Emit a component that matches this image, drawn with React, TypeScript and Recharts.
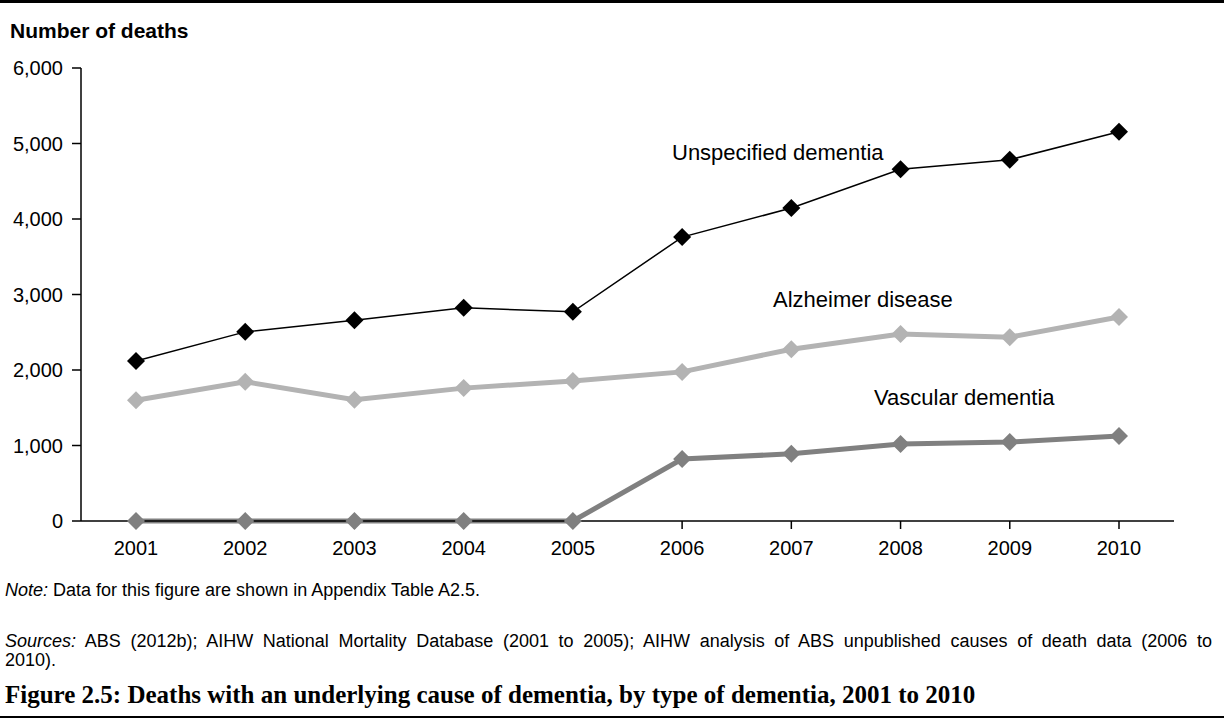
import { Line, LineChart, XAxis, YAxis } from "recharts";

const years = ["2001", "2002", "2003", "2004", "2005", "2006", "2007", "2008", "2009", "2010"];
const unspecified = [2120, 2505, 2660, 2825, 2770, 3760, 4145, 4660, 4785, 5155];
const alzheimer = [1600, 1845, 1605, 1760, 1855, 1975, 2275, 2478, 2435, 2702];
const vascular = [0, 0, 0, 0, 0, 820, 890, 1020, 1046, 1126];
const yTicks = [0, 1000, 2000, 3000, 4000, 5000, 6000];

const data = years.map((year, i) => ({
    year,
    unspecified: unspecified[i],
    alzheimer: alzheimer[i],
    vascular: vascular[i],
}));

const SANS = '"Liberation Sans", Arial, sans-serif';

const diamond = (color: string, r: number) => (props: any) => {
    const { cx, cy, index } = props;
    if (cx == null || cy == null) return null;
    return (
        <path
            key={index}
            d={`M${cx},${cy - r}L${cx + r},${cy}L${cx},${cy + r}L${cx - r},${cy}Z`}
            fill={color}
        />
    );
};

const noteStyle: React.CSSProperties = {
    position: "absolute",
    left: 5,
    fontFamily: SANS,
    fontSize: 18,
    lineHeight: "19px",
    color: "#000",
    whiteSpace: "nowrap",
};

const Tag = ({ left, top, text }: { left: number; top: number; text: string }) => (
    <div style={{ position: "absolute", left, top, fontFamily: SANS, fontSize: 22, lineHeight: "22px", color: "#000", whiteSpace: "nowrap" }}>
        {text}
    </div>
);

export default function App() {
    return (
        <div style={{ position: "absolute", left: 0, top: 0, width: 1224, height: 727, background: "#fff", overflow: "hidden" }}>
            <div style={{ position: "absolute", left: 0, top: 0, width: 1224, height: 3, background: "#000" }} />

            <div style={{ position: "absolute", left: 10, top: 20, fontFamily: SANS, fontSize: 21, fontWeight: "bold", lineHeight: "21px" }}>
                Number of deaths
            </div>

            <div style={{ position: "absolute", left: 0, top: 0 }}>
                <LineChart width={1224} height={560} data={data} margin={{ top: 68, right: 50, left: 0, bottom: 0 }}>
                    <XAxis
                        dataKey="year"
                        height={39}
                        padding={{ left: 55, right: 55 }}
                        axisLine={{ stroke: "#000", strokeWidth: 1.5 }}
                        tickLine={{ stroke: "#000", strokeWidth: 1.5 }}
                        tickSize={8}
                        tickMargin={12}
                        interval={0}
                        tick={{ fill: "#000", fontSize: 20, fontFamily: SANS }}
                    />
                    <YAxis
                        width={81}
                        domain={[0, 6000]}
                        ticks={yTicks}
                        interval={0}
                        tickFormatter={(v: number) => v.toLocaleString("en-US")}
                        axisLine={{ stroke: "#000", strokeWidth: 1.5 }}
                        tickLine={{ stroke: "#000", strokeWidth: 1.5 }}
                        tickSize={9}
                        tickMargin={9}
                        tick={{ fill: "#000", fontSize: 20, fontFamily: SANS }}
                    />
                    <Line
                        dataKey="alzheimer"
                        stroke="#b3b3b3"
                        strokeWidth={5}
                        dot={diamond("#b3b3b3", 9)}
                        activeDot={false}
                        isAnimationActive={false}
                    />
                    <Line
                        dataKey="vascular"
                        stroke="#808080"
                        strokeWidth={5}
                        dot={diamond("#808080", 9)}
                        activeDot={false}
                        isAnimationActive={false}
                    />
                    <Line
                        dataKey="unspecified"
                        stroke="#000"
                        strokeWidth={1.5}
                        dot={diamond("#000", 9)}
                        activeDot={false}
                        isAnimationActive={false}
                    />
                </LineChart>
            </div>

            <Tag left={672} top={142} text="Unspecified dementia" />
            <Tag left={773} top={289} text="Alzheimer disease" />
            <Tag left={874} top={387} text="Vascular dementia" />

            <div style={{ ...noteStyle, top: 581 }}>
                <i>Note:</i> Data for this figure are shown in Appendix Table A2.5.
            </div>
            <div style={{ ...noteStyle, top: 632, width: 1207, textAlign: "justify", textAlignLast: "justify", whiteSpace: "normal" }}>
                <i>Sources:</i> ABS (2012b); AIHW National Mortality Database (2001 to 2005); AIHW analysis of ABS unpublished causes of death data (2006 to
            </div>
            <div style={{ ...noteStyle, top: 651 }}>2010).</div>

            <div style={{ position: "absolute", left: 5, top: 681, fontFamily: '"Liberation Serif", "DejaVu Serif", serif', fontSize: 25, fontWeight: "bold", lineHeight: "28px", whiteSpace: "nowrap" }}>
                Figure 2.5: Deaths with an underlying cause of dementia, by type of dementia, 2001 to 2010
            </div>
            <div style={{ position: "absolute", left: 0, top: 716, width: 1224, height: 2, background: "#000" }} />
        </div>
    );
}
